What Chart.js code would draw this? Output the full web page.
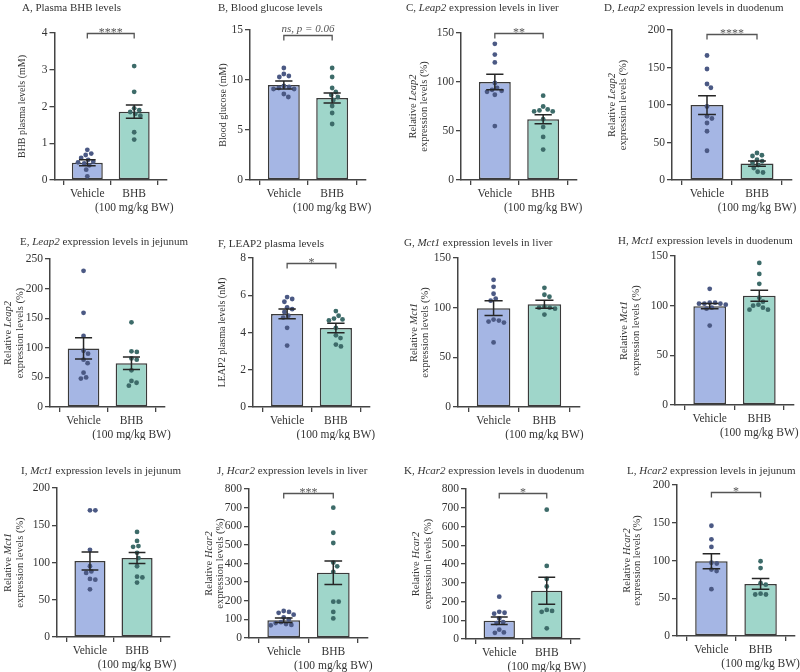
<!DOCTYPE html>
<html>
<head>
<meta charset="utf-8">
<script src="https://cdn.jsdelivr.net/npm/chart.js@4"></script>
<style>
  body { margin: 0; background: #fff; width: 800px; height: 672px; position: relative; overflow: hidden;
         font-family: 'Liberation Serif', 'Times New Roman', serif; color: #333; }
  canvas { position: absolute; }
  .t { position: absolute; font-size: 11px; line-height: 14px; white-space: nowrap; }
</style>
</head>
<body>
<script>
// groups on the x axis
const groups = ['Vehicle', ['BHB', '(100 mg/kg BW)']];

// A, plasma BHB (mM)
const aVehicle = [0.82, 0.72, 0.68, 0.6, 0.55, 0.5, 0.48, 0.45, 0.4, 0.28, 0.1];
const aBhb = [3.1, 2.4, 1.95, 1.9, 1.85, 1.8, 1.75, 1.3, 1.1];
const aMean = [0.47, 1.86];
const aSem = [0.08, 0.18];
const aTicks = [4, 1];
const aSig = ['****', 4];

// B, blood glucose (mM)
const bVehicle = [11.2, 10.6, 10.4, 10.3, 9.4, 9.3, 9.2, 9.1, 9.1, 8.6, 8.3];
const bBhb = [11.2, 10.3, 9.2, 8.8, 8.5, 8.3, 8.0, 7.4, 6.7, 5.6];
const bMean = [9.5, 8.2];
const bSem = [0.4, 0.5];
const bTicks = [15, 5];
const bSig = ['ns, p = 0.06', 14.5];

// C, Leap2 liver (%)
const cVehicle = [139, 128, 120, 99, 94, 92, 91, 90, 87, 55];
const cBhb = [86, 75, 72, 71, 70, 70, 62, 54, 44, 31];
const cMean = [100, 62];
const cSem = [8, 4.5];
const cTicks = [150, 50];
const cSig = ['**', 150];

// D, Leap2 duodenum (%)
const dVehicle = [166, 148, 128, 123, 98, 85, 82, 76, 65, 39];
const dBhb = [36, 33, 32, 27, 25, 23, 20, 16, 11, 10];
const dMean = [100, 22];
const dSem = [12.5, 3.5];
const dTicks = [200, 50];
const dSig = ['****', 195];

// E, Leap2 jejunum (%)
const eVehicle = [230, 159, 120, 95, 90, 80, 74, 58, 50, 48];
const eBhb = [143, 94, 93, 82, 80, 62, 44, 41, 36];
const eMean = [99, 74];
const eSem = [18, 10.5];
const eTicks = [250, 50];

// F, LEAP2 plasma (nM)
const fVehicle = [5.9, 5.8, 5.65, 5.35, 5.25, 5.1, 4.9, 4.8, 4.25, 3.3];
const fBhb = [5.15, 4.9, 4.75, 4.7, 4.65, 4.25, 3.85, 3.7, 3.35, 3.25];
const fMean = [5.0, 4.24];
const fSem = [0.26, 0.25];
const fTicks = [8, 2];
const fSig = ['*', 7.75];

// G, Mct1 liver (%)
const gVehicle = [128, 121, 114, 109, 107, 88, 87, 86, 85, 65];
const gBhb = [120, 113, 111, 101, 100, 100, 99, 93];
const gMean = [99.5, 103.5];
const gSem = [7.5, 4];
const gTicks = [150, 50];

// H, Mct1 duodenum (%)
const hVehicle = [117, 103, 103, 102, 102, 102, 101, 98, 97, 80];
const hBhb = [143, 132, 122, 108, 104, 101, 100, 98, 96, 96];
const hMean = [99.5, 110];
const hSem = [2.7, 5.5];
const hTicks = [150, 50];

// I, Mct1 jejunum (%)
const iVehicle = [170, 170, 117, 95, 88, 86, 78, 77, 64];
const iBhb = [141, 129, 122, 121, 113, 106, 95, 81, 80, 73];
const iMean = [102, 106];
const iSem = [12, 7.5];
const iTicks = [200, 50];

// J, Hcar2 liver (%)
const jVehicle = [145, 140, 135, 125, 110, 100, 85, 80, 75, 70, 68];
const jBhb = [700, 565, 510, 405, 385, 355, 195, 195, 140, 105];
const jMean = [95, 350];
const jSem = [12, 63];
const jTicks = [800, 100];
const jSig = ['***', 780];

// K, Hcar2 duodenum (%)
const kVehicle = [226, 145, 140, 135, 110, 90, 85, 50, 35, 33];
const kBhb = [690, 390, 320, 280, 155, 150, 145, 57];
const kMean = [97, 258];
const kSem = [20, 72];
const kTicks = [800, 100];
const kSig = ['*', 780];

// L, Hcar2 jejunum (%)
const lVehicle = [146, 128, 118, 97, 96, 88, 86, 62];
const lBhb = [99, 90, 70, 68, 56, 55, 55];
const lMean = [99, 69];
const lSem = [10, 7];
const lTicks = [200, 50];
const lSig = ['*', 191];

const barColors = ['#a5b6e4', '#9fd6ca'];
const dotColors = ['#4b5984', '#3d6b69'];
const ink = '#3a3a3a';
const FONT = "'Liberation Serif', 'Times New Roman', serif";

function rel(gene) {
  return [[['Relative ', false], [gene, true]], [['expression levels (%)', false]]];
}
function plain(s) { return [[[s, false]]]; }

// cell = canvas box, plot = axis box (left, top, right, bottom), page pixels
const panels = [
  { title: 'A, Plasma BHB levels', tp: [22, 7], cell: [0, 0, 200, 220], plot: [54.5, 33, 167, 180],
    yt: plain('BHB plasma levels (mM)'), ytx: [22], veh: aVehicle, bhb: aBhb, mean: aMean, sem: aSem, ticks: aTicks, sig: aSig },
  { title: 'B, Blood glucose levels', tp: [218, 7], cell: [200, 0, 200, 220], plot: [250, 30, 366, 180],
    yt: plain('Blood glucose (mM)'), ytx: [223], veh: bVehicle, bhb: bBhb, mean: bMean, sem: bSem, ticks: bTicks, sig: bSig },
  { title: 'C, <i>Leap2</i> expression levels in liver', tp: [406, 7], cell: [400, 0, 200, 220], plot: [461, 33, 577, 180],
    yt: rel('Leap2'), ytx: [413, 424], veh: cVehicle, bhb: cBhb, mean: cMean, sem: cSem, ticks: cTicks, sig: cSig },
  { title: 'D, <i>Leap2</i> expression levels in duodenum', tp: [604, 7], cell: [600, 0, 200, 220], plot: [672, 30, 792, 180],
    yt: rel('Leap2'), ytx: [612, 623], veh: dVehicle, bhb: dBhb, mean: dMean, sem: dSem, ticks: dTicks, sig: dSig },
  { title: 'E, <i>Leap2</i> expression levels in jejunum', tp: [20, 241], cell: [0, 220, 200, 220], plot: [50, 259, 165, 407],
    yt: rel('Leap2'), ytx: [8, 20], veh: eVehicle, bhb: eBhb, mean: eMean, sem: eSem, ticks: eTicks, sig: null },
  { title: 'F, LEAP2 plasma levels', tp: [218, 243], cell: [200, 220, 200, 220], plot: [253, 258, 370, 407],
    yt: plain('LEAP2 plasma levels (nM)'), ytx: [222], veh: fVehicle, bhb: fBhb, mean: fMean, sem: fSem, ticks: fTicks, sig: fSig },
  { title: 'G, <i>Mct1</i> expression levels in liver', tp: [404, 242], cell: [400, 220, 200, 220], plot: [458, 258, 580, 407],
    yt: rel('Mct1'), ytx: [414, 425], veh: gVehicle, bhb: gBhb, mean: gMean, sem: gSem, ticks: gTicks, sig: null },
  { title: 'H, <i>Mct1</i> expression levels in duodenum', tp: [618, 240], cell: [600, 220, 200, 220], plot: [675, 256, 794, 405],
    yt: rel('Mct1'), ytx: [624, 636], veh: hVehicle, bhb: hBhb, mean: hMean, sem: hSem, ticks: hTicks, sig: null },
  { title: 'I, <i>Mct1</i> expression levels in jejunum', tp: [21, 470], cell: [0, 440, 200, 232], plot: [57, 488, 170, 637],
    yt: rel('Mct1'), ytx: [8, 20], veh: iVehicle, bhb: iBhb, mean: iMean, sem: iSem, ticks: iTicks, sig: null },
  { title: 'J, <i>Hcar2</i> expression levels in liver', tp: [217, 470], cell: [200, 440, 200, 232], plot: [249, 489, 368, 638],
    yt: rel('Hcar2'), ytx: [209, 220], veh: jVehicle, bhb: jBhb, mean: jMean, sem: jSem, ticks: jTicks, sig: jSig },
  { title: 'K, <i>Hcar2</i> expression levels in duodenum', tp: [404, 470], cell: [400, 440, 200, 232], plot: [466, 489, 580, 639],
    yt: rel('Hcar2'), ytx: [416, 428], veh: kVehicle, bhb: kBhb, mean: kMean, sem: kSem, ticks: kTicks, sig: kSig },
  { title: 'L, <i>Hcar2</i> expression levels in jejunum', tp: [627, 470], cell: [600, 440, 200, 232], plot: [677, 485, 795, 636],
    yt: rel('Hcar2'), ytx: [627, 637], veh: lVehicle, bhb: lBhb, mean: lMean, sem: lSem, ticks: lTicks, sig: lSig }
];

// simple beeswarm: spread dots sideways so they do not overlap
function swarm(values, group, max, plotH, unitPx) {
  const d = 5.4;
  const placed = [];
  return values.map(v => {
    const y = v / max * plotH;
    const cands = [0];
    placed.forEach(p => {
      const dy = Math.abs(p.y - y);
      if (dy < d) {
        const w = Math.sqrt(d * d - dy * dy);
        cands.push(p.x - w, p.x + w);
      }
    });
    cands.sort((a, b) => Math.abs(a) - Math.abs(b) || b - a);
    const x = cands.find(c => placed.every(p => (p.x - c) ** 2 + (p.y - y) ** 2 >= d * d - 0.01));
    placed.push({ x, y });
    return { x: group + x / unitPx, y: v };
  });
}

function font(size, italic) {
  return (italic ? 'italic ' : '') + size + 'px ' + FONT;
}

panels.forEach(p => {
  const [cx, cy, cw, ch] = p.cell;
  const [pl, pt, pr, pb] = p.plot;
  const [yMax, yStep] = p.ticks;

  const cv = document.createElement('canvas');
  cv.width = cw; cv.height = ch;
  cv.style.left = cx + 'px'; cv.style.top = cy + 'px';
  document.body.appendChild(cv);

  const t = document.createElement('div');
  t.className = 't';
  t.innerHTML = p.title;
  t.style.left = p.tp[0] + 'px';
  t.style.top = (p.tp[1] - 7) + 'px';
  document.body.appendChild(t);

  const unitPx = (pr - pl) / 2.4;
  const plotH = pb - pt;
  const ytSize = p.yt.length > 1 ? 10.5 : 10;

  const extras = {
    id: 'extras',
    afterDatasetsDraw(chart) {
      const ctx = chart.ctx;
      const ys = chart.scales.y;
      const meta = chart.getDatasetMeta(2);
      ctx.save();
      ctx.strokeStyle = '#262626';
      ctx.lineWidth = 1.5;
      meta.data.forEach((bar, i) => {
        const top = ys.getPixelForValue(p.mean[i] + p.sem[i]);
        const bot = ys.getPixelForValue(p.mean[i] - p.sem[i]);
        const half = bar.width * 0.27;
        ctx.beginPath();
        ctx.moveTo(bar.x, top); ctx.lineTo(bar.x, bot);
        ctx.moveTo(bar.x - half, top); ctx.lineTo(bar.x + half, top);
        ctx.moveTo(bar.x - half, bot); ctx.lineTo(bar.x + half, bot);
        ctx.stroke();
      });
      ctx.restore();
    },
    afterDraw(chart) {
      const ctx = chart.ctx;
      const area = chart.chartArea;
      const ys = chart.scales.y, xs = chart.scales.x;
      // y axis title (mixed italic)
      const mid = (area.top + area.bottom) / 2;
      p.yt.forEach((line, i) => {
        ctx.save();
        ctx.translate(p.ytx[i] - cx, mid);
        ctx.rotate(-Math.PI / 2);
        ctx.textBaseline = 'middle';
        ctx.textAlign = 'left';
        ctx.fillStyle = '#333';
        let w = 0;
        line.forEach(([s, it]) => { ctx.font = font(ytSize, it); w += ctx.measureText(s).width; });
        let x = -w / 2;
        line.forEach(([s, it]) => { ctx.font = font(ytSize, it); ctx.fillText(s, x, 0); x += ctx.measureText(s).width; });
        ctx.restore();
      });
      // significance bracket
      if (p.sig) {
        const [label, yv] = p.sig;
        const y = Math.round(ys.getPixelForValue(yv)) + 0.5;
        const x0 = xs.getPixelForValue(0), x1 = xs.getPixelForValue(1);
        ctx.save();
        ctx.strokeStyle = '#555';
        ctx.lineWidth = 1.3;
        ctx.beginPath();
        ctx.moveTo(x0, y + 5); ctx.lineTo(x0, y); ctx.lineTo(x1, y); ctx.lineTo(x1, y + 5);
        ctx.stroke();
        ctx.fillStyle = '#555';
        ctx.textAlign = 'center';
        ctx.textBaseline = 'alphabetic';
        const stars = label.indexOf('*') === 0;
        ctx.font = font(stars ? 12 : 11, !stars);
        ctx.fillText(label, (x0 + x1) / 2, stars ? y + 2 : y - 4);
        ctx.restore();
      }
    }
  };

  new Chart(cv, {
    type: 'bar',
    data: {
      datasets: [
        { type: 'scatter', data: swarm(p.veh, 0, yMax, plotH, unitPx), backgroundColor: dotColors[0],
          borderColor: dotColors[0], borderWidth: 0, pointRadius: 2.4, order: 0 },
        { type: 'scatter', data: swarm(p.bhb, 1, yMax, plotH, unitPx), backgroundColor: dotColors[1],
          borderColor: dotColors[1], borderWidth: 0, pointRadius: 2.4, order: 0 },
        { type: 'bar', data: p.mean.map((m, i) => ({ x: i, y: m })), backgroundColor: barColors,
          borderColor: ink, borderWidth: 1.5, borderSkipped: false,
          categoryPercentage: 1, barPercentage: 0.66, order: 1 }
      ]
    },
    options: {
      responsive: false,
      animation: false,
      layout: { padding: { left: 0, top: pt - cy, right: cx + cw - pr, bottom: 0 } },
      plugins: { legend: { display: false }, tooltip: { enabled: false } },
      scales: {
        x: {
          type: 'linear', min: -0.7, max: 1.7, offset: false,
          afterBuildTicks: s => { s.ticks = [{ value: 0 }, { value: 1 }]; },
          afterFit: s => { s.height = cy + ch - pb; s.paddingLeft = 0; s.paddingRight = 0; },
          grid: { drawOnChartArea: false, tickLength: 5, color: '#444', lineWidth: 1.3 },
          border: { color: '#444', width: 1.5 },
          ticks: { callback: v => groups[v], autoSkip: false, maxRotation: 0, padding: 2,
                   color: '#333', font: { family: FONT, size: 11.5, lineHeight: 1.2 } }
        },
        y: {
          min: 0, max: yMax,
          afterFit: s => { s.width = pl - cx; s.paddingTop = 0; s.paddingBottom = 0; },
          grid: { drawOnChartArea: false, tickLength: 5, color: '#444', lineWidth: 1.3 },
          border: { color: '#444', width: 1.5 },
          ticks: { stepSize: yStep, padding: 2, color: '#333', font: { family: FONT, size: 11.5 } }
        }
      }
    },
    plugins: [extras]
  });
});
</script>
</body>
</html>
